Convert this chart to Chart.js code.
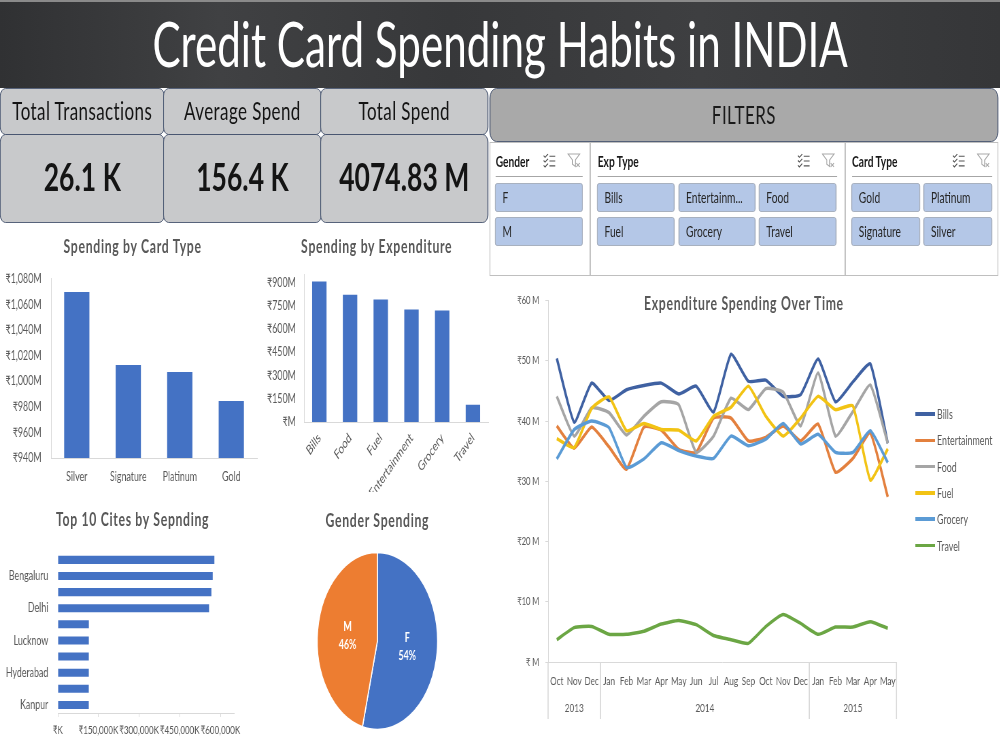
<!DOCTYPE html>
<html>
<head>
<meta charset="utf-8">
<title>Credit Card Spending Habits in INDIA</title>
<script src="https://cdn.jsdelivr.net/npm/chart.js@4.4.1/dist/chart.umd.min.js"></script>
<style>
  html, body { margin: 0; padding: 0; background: #fff; overflow: hidden; }
  body { width: 1000px; height: 750px; font-family: Lato, "DejaVu Sans", sans-serif; }
  /* the whole board is laid out wide and squeezed, like the source picture */
  #board { position: absolute; left: 0; top: 0; width: 1471px; height: 750px; transform: scaleX(0.68); transform-origin: 0 0; }
  #board > * { position: absolute; }
  #banner { left: 0; top: 0; width: 1471px; height: 88px; box-sizing: border-box; border-top: 2px solid #8a8a8a;
    background: linear-gradient(to right, #303133 0%, #404143 22%, #37383a 45%, #3e3f41 70%, #353638 100%); }
  #banner h1 { margin: 0; color: #fff; font-weight: 400; font-size: 62px; line-height: 82px; letter-spacing: 0; text-align: center; }
  .card { background: #c8c9cb; border: 1.5px solid #3d4b68; border-radius: 8px; box-sizing: border-box; text-align: center; color: #141414; }
  .card.head { top: 88px; height: 47px; font-size: 25px; line-height: 42px; letter-spacing: 0.6px; }
  .card.val { top: 134px; height: 89px; font-size: 39px; font-weight: 700; line-height: 83px; }
  #filterHead { left: 720px; top: 88px; width: 748px; height: 54px; background: #a9a9a9; border: 1.5px solid #3d4b68; border-radius: 10px;
    box-sizing: border-box; text-align: center; font-size: 25px; line-height: 51px; color: #1a1a1a; letter-spacing: 0.6px; }
  #slicers { left: 720px; top: 142px; width: 748px; height: 134px; background: #fff; border: 1.5px solid #bfbfbf; box-sizing: border-box; }
  .divider { top: 142px; width: 1.5px; height: 134px; background: #bfbfbf; }
  .sHead { top: 152px; font-size: 15px; font-weight: 700; line-height: 18px; color: #1a1a1a; }
  .sLine { top: 176px; height: 1.2px; background: #a6a6a6; }
  .icon { top: 152px; }
  .btn { height: 29px; background: #b4c7e7; border: 1px solid #9ea7b5; border-radius: 3px; box-sizing: border-box;
    font-size: 15px; line-height: 27px; padding-left: 10px; color: #262626; white-space: nowrap; overflow: hidden; }
  .ctitle { width: 400px; text-align: center; font-size: 18px; font-weight: 700; line-height: 22px; color: #595959; letter-spacing: 1px; }
  .leg { font-size: 13px; line-height: 16px; color: #595959; }
  .legLine { height: 3.5px; width: 29px; }
</style>
</head>
<body>
<div id="board">
  <div id="banner"><h1>Credit Card Spending Habits in INDIA</h1></div>

  <div class="card head" style="left:0;width:242px">Total Transactions</div>
  <div class="card head" style="left:240px;width:233px">Average Spend</div>
  <div class="card head" style="left:471px;width:247px">Total Spend</div>
  <div class="card val" style="left:0;width:242px">26.1 K</div>
  <div class="card val" style="left:240px;width:233px">156.4 K</div>
  <div class="card val" style="left:471px;width:247px">4074.83 M</div>

  <div id="filterHead">FILTERS</div>
  <div id="slicers"></div>
  <div class="divider" style="left:867px"></div>
  <div class="divider" style="left:1242px"></div>

  <div class="ctitle" style="left:-5px;top:235px">Spending by Card Type</div>
  <div class="ctitle" style="left:354px;top:235px">Spending by Expenditure</div>
  <div class="ctitle" style="left:-5px;top:508px">Top 10 Cites by Sepnding</div>
  <div class="ctitle" style="left:355px;top:509px">Gender Spending</div>
  <div class="ctitle" style="left:894px;top:292px">Expenditure Spending Over Time</div>
</div>

<script>
// --- data (₹ millions unless noted) ---
const cardTypes = ['Silver', 'Signature', 'Platinum', 'Gold'];
const cardSpend = [1069.6, 1012.6, 1007.1, 984.5];

const expTypes = ['Bills', 'Food', 'Fuel', 'Entertainment', 'Grocery', 'Travel'];
const expSpend = [907, 822, 790, 726, 719, 112];

// top to bottom; ₹ thousands
const cities = ['Greater Mumbai', 'Bengaluru', 'Ahmedabad', 'Delhi', 'Kolkata', 'Lucknow', 'Chennai', 'Hyderabad', 'Bhopal', 'Kanpur'];
const citySpend = [577900, 571700, 566800, 558200, 114600, 114500, 114400, 114400, 114300, 114300];
const cityTicks = [0, 150000, 300000, 450000, 600000];

const genders = ['F', 'M'];
const genderShare = [54, 46];

const months = ['Oct', 'Nov', 'Dec', 'Jan', 'Feb', 'Mar', 'Apr', 'May', 'Jun', 'Jul', 'Aug', 'Sep',
                'Oct', 'Nov', 'Dec', 'Jan', 'Feb', 'Mar', 'Apr', 'May'];
const years = ['2013', '2014', '2015'];
const monthsPerYear = [3, 12, 5];

const billsSeries = [50.4, 39.8, 46.3, 43.4, 45.2, 45.9, 46.3, 44.5, 45.8, 41.5, 51.1, 46.6, 46.8, 44.1, 44.4, 50.3, 43.2, 46.5, 49.5, 36.3];
const entertainmentSeries = [39.2, 35.5, 39.0, 35.7, 32.0, 39.0, 38.5, 35.3, 34.8, 40.5, 40.5, 36.7, 37.3, 39.2, 36.7, 39.5, 31.5, 33.8, 38.0, 27.4];
const foodSeries = [44.1, 37.5, 42.2, 41.4, 37.7, 40.8, 43.2, 42.7, 34.8, 37.5, 43.8, 41.9, 45.4, 44.8, 39.2, 48.0, 37.5, 41.6, 46.0, 36.3];
const fuelSeries = [37.1, 35.6, 42.1, 44.0, 38.4, 39.6, 38.6, 38.5, 36.7, 40.8, 42.3, 45.8, 40.8, 37.5, 40.5, 44.1, 41.9, 42.5, 30.2, 35.4];
const grocerySeries = [33.7, 38.6, 40.0, 38.9, 32.3, 33.7, 36.4, 35.1, 34.2, 33.8, 37.5, 35.9, 37.0, 39.6, 36.2, 37.8, 34.8, 34.8, 38.4, 33.1];
const travelSeries = [3.7, 5.7, 5.9, 4.6, 4.6, 5.1, 6.3, 6.9, 6.2, 4.4, 3.7, 3.1, 5.9, 7.9, 6.4, 4.6, 5.8, 5.8, 6.7, 5.6];

const seriesNames = ['Bills', 'Entertainment', 'Food', 'Fuel', 'Grocery', 'Travel'];
const seriesData = [billsSeries, entertainmentSeries, foodSeries, fuelSeries, grocerySeries, travelSeries];
const seriesColors = ['#3f61a2', '#e3803e', '#a5a5a5', '#f2c314', '#5b9bd5', '#6ba644'];

const slicerGender = ['F', 'M'];
const slicerExp = ['Bills', 'Entertainm...', 'Food', 'Fuel', 'Grocery', 'Travel'];
const slicerCard = ['Gold', 'Platinum', 'Signature', 'Silver'];

const barBlue = '#4472c4';
const axisGray = '#d9d9d9';
const FONT = 'Lato, "DejaVu Sans", sans-serif';

Chart.defaults.font.family = FONT;
Chart.defaults.color = '#595959';
Chart.defaults.animation = false;
Chart.defaults.plugins.legend.display = false;
Chart.defaults.plugins.tooltip.enabled = false;

const board = document.getElementById('board');

function addEl(tag, cls, style, html) {
    const el = document.createElement(tag);
    if (cls) el.className = cls;
    Object.assign(el.style, style);
    if (html !== undefined) el.innerHTML = html;
    board.appendChild(el);
    return el;
}

function makeCanvas(left, top, w, h) {
    const c = document.createElement('canvas');
    c.width = w;
    c.height = h;
    Object.assign(c.style, { left: left + 'px', top: top + 'px', width: w + 'px', height: h + 'px' });
    board.appendChild(c);
    return c;
}

// --- slicers ---
const checkIcon = '<svg width="20" height="15" viewBox="0 0 14 14" preserveAspectRatio="none"><path d="M1 2.5l1.5 1.5 3-3M1 7l1.5 1.5 3-3M1 11.5l1.5 1.5 3-3M7 3h6M7 7.5h6M7 12h6" fill="none" stroke="#555" stroke-width="1"/></svg>';
const clearIcon = '<svg width="20" height="15" viewBox="0 0 14 14" preserveAspectRatio="none"><path d="M1 1h12l-4.5 5.5v6l-3-2v-4z" fill="none" stroke="#aaa" stroke-width="1"/><path d="M9.5 9.5l3.5 3.5M13 9.5l-3.5 3.5" stroke="#aaa" stroke-width="1"/></svg>';

function slicer(title, items, left, right, iconX, colEdges) {
    addEl('div', 'sHead', { left: left + 'px' }, title);
    addEl('div', 'icon', { left: iconX[0] + 'px' }, checkIcon);
    addEl('div', 'icon', { left: iconX[1] + 'px' }, clearIcon);
    addEl('div', 'sLine', { left: left + 'px', width: (right - left) + 'px' });
    const cols = colEdges.length;
    items.forEach((name, i) => {
        const col = i % cols, row = Math.floor(i / cols);
        const [x0, x1] = colEdges[col];
        addEl('div', 'btn', { left: x0 + 'px', width: (x1 - x0) + 'px', top: (183 + row * 34) + 'px' }, name);
    });
}

slicer('Gender', slicerGender, 729, 857, [798, 834], [[728, 857]]);
slicer('Exp Type', slicerExp, 879, 1231, [1172, 1208], [[878, 992], [998, 1111], [1116, 1230]]);
slicer('Card Type', slicerCard, 1253, 1459, [1400, 1436], [[1252, 1353], [1358, 1459]]);

// --- spending by card type ---
new Chart(makeCanvas(0, 256.5, 380, 231.5), {
    type: 'bar',
    data: {
        labels: cardTypes,
        datasets: [{ data: cardSpend, backgroundColor: barBlue, barPercentage: 0.49, categoryPercentage: 1 }]
    },
    options: {
        responsive: false,
        devicePixelRatio: 1,
        layout: { padding: { top: 0, right: 2, left: 0, bottom: 0 } },
        scales: {
            x: {
                grid: { display: false, drawTicks: false },
                border: { color: axisGray },
                ticks: { padding: 11, font: { size: 13 } },
                afterFit: s => { s.height = 30; }
            },
            y: {
                min: 940,
                max: 1080,
                grid: { display: false, drawTicks: false },
                border: { color: axisGray },
                ticks: {
                    stepSize: 20,
                    includeBounds: false,
                    padding: 14,
                    font: { size: 13 },
                    callback: v => '₹' + v.toLocaleString('en-US') + 'M'
                },
                afterFit: s => { s.width = 75; }
            }
        }
    }
});

// --- spending by expenditure ---
new Chart(makeCanvas(377, 255, 343, 262), {
    type: 'bar',
    data: {
        labels: expTypes,
        datasets: [{ data: expSpend, backgroundColor: barBlue, barPercentage: 0.47, categoryPercentage: 1 }]
    },
    options: {
        responsive: false,
        devicePixelRatio: 1,
        layout: { padding: { top: 0, right: 2, left: 0, bottom: 25 } },
        scales: {
            x: {
                grid: { display: false, drawTicks: false },
                border: { color: axisGray },
                ticks: { padding: 8, minRotation: 45, maxRotation: 45, autoSkip: false, font: { size: 13.5 } },
                afterFit: s => { s.height = 70; }
            },
            y: {
                min: 0,
                max: 950,
                grid: { display: false, drawTicks: false },
                border: { color: axisGray },
                ticks: {
                    stepSize: 150,
                    includeBounds: false,
                    padding: 12,
                    font: { size: 13 },
                    callback: v => v === 0 ? '₹M' : '₹' + v + 'M'
                },
                afterFit: s => { s.width = 70; }
            }
        }
    }
});

// --- top 10 cities ---
new Chart(makeCanvas(0, 530, 370, 213), {
    type: 'bar',
    data: {
        labels: cities,
        datasets: [{ data: citySpend, backgroundColor: barBlue, barPercentage: 0.5, categoryPercentage: 1 }]
    },
    options: {
        indexAxis: 'y',
        responsive: false,
        devicePixelRatio: 1,
        layout: { padding: { top: 0, right: 26, left: 0, bottom: 0 } },
        scales: {
            x: {
                min: 0,
                max: 650000,
                grid: { drawOnChartArea: false, drawTicks: true, tickLength: 4, color: axisGray },
                border: { color: axisGray },
                afterBuildTicks: s => { s.ticks = cityTicks.map(v => ({ value: v })); },
                ticks: {
                    autoSkip: false,
                    maxRotation: 0,
                    padding: 6,
                    font: { size: 11.8 },
                    callback: v => '₹' + (v === 0 ? '' : v.toLocaleString('en-US')) + 'K'
                },
                afterFit: s => { s.height = 30; }
            },
            y: {
                grid: { display: false, drawTicks: false },
                border: { display: false },
                ticks: {
                    autoSkip: false,
                    padding: 14,
                    font: { size: 13 },
                    // only every other city is labelled in the source
                    callback: (v, i) => i % 2 === 1 ? cities[i] : ''
                },
                afterFit: s => { s.width = 85; }
            }
        }
    }
});

// --- gender pie ---
const pieLabels = {
    id: 'pieLabels',
    afterDatasetsDraw(chart) {
        const ctx = chart.ctx;
        const meta = chart.getDatasetMeta(0);
        ctx.save();
        ctx.fillStyle = '#fff';
        ctx.font = 'bold 13px ' + FONT;
        ctx.textAlign = 'center';
        ctx.textBaseline = 'middle';
        meta.data.forEach((arc, i) => {
            const p = arc.tooltipPosition();
            ctx.fillText(genders[i], p.x, p.y - 9);
            ctx.fillText(genderShare[i] + '%', p.x, p.y + 9);
        });
        ctx.restore();
    }
};

new Chart(makeCanvas(455, 541, 200, 200), {
    type: 'pie',
    data: {
        labels: genders,
        datasets: [{ data: genderShare, backgroundColor: [barBlue, '#ed7d31'], borderColor: '#fff', borderWidth: 1.5 }]
    },
    options: {
        responsive: false,
        devicePixelRatio: 1,
        radius: 88.5
    },
    plugins: [pieLabels]
});

// --- spending over time ---
const yearGroups = {
    id: 'yearGroups',
    afterDraw(chart) {
        const x = chart.scales.x;
        const ctx = chart.ctx;
        const half = (x.getPixelForValue(1) - x.getPixelForValue(0)) / 2;
        const top = x.top, bottom = x.top + 57;
        ctx.save();
        ctx.strokeStyle = axisGray;
        ctx.lineWidth = 1.5;
        ctx.fillStyle = '#595959';
        ctx.font = '12px ' + FONT;
        ctx.textAlign = 'center';
        ctx.textBaseline = 'middle';
        let start = 0;
        monthsPerYear.forEach((n, i) => {
            const left = x.getPixelForValue(start) - half;
            const right = x.getPixelForValue(start + n - 1) + half;
            ctx.beginPath();
            ctx.moveTo(left, top);
            ctx.lineTo(left, bottom);
            ctx.moveTo(right, top);
            ctx.lineTo(right, bottom);
            ctx.stroke();
            ctx.fillText(years[i], (left + right) / 2, top + 46);
            start += n;
        });
        ctx.restore();
    }
};

const lineChart = new Chart(makeCanvas(740, 285, 589, 434), {
    type: 'line',
    data: {
        labels: months,
        datasets: seriesNames.map((name, i) => ({
            label: name,
            data: seriesData[i],
            borderColor: seriesColors[i],
            backgroundColor: seriesColors[i],
            borderWidth: 3.5,
            pointRadius: 0,
            tension: 0.15,
            order: seriesNames.length - i
        }))
    },
    options: {
        responsive: false,
        devicePixelRatio: 1,
        layout: { padding: 0 },
        scales: {
            x: {
                offset: true,
                grid: { display: false, drawTicks: false },
                border: { color: axisGray },
                ticks: { padding: 12, autoSkip: false, maxRotation: 0, font: { size: 12 } },
                afterFit: s => { s.height = 57; }
            },
            y: {
                min: 0,
                max: 60,
                grid: { drawOnChartArea: false, drawTicks: true, tickLength: 4, color: axisGray },
                border: { color: axisGray },
                ticks: {
                    stepSize: 10,
                    includeBounds: false,
                    padding: 9,
                    font: { size: 11 },
                    callback: v => v === 0 ? '₹ M' : '₹' + v + ' M'
                },
                afterFit: s => { s.width = 66; }
            }
        }
    },
    plugins: [yearGroups]
});

// legend beside the line chart, built from the chart's own datasets
lineChart.data.datasets.forEach((ds, i) => {
    const y = 414 + i * 26.3;
    addEl('div', 'legLine', { left: '1346px', top: (y - 1.75) + 'px', background: ds.borderColor });
    addEl('div', 'leg', { left: '1378px', top: (y - 8) + 'px' }, ds.label);
});
</script>
</body>
</html>
